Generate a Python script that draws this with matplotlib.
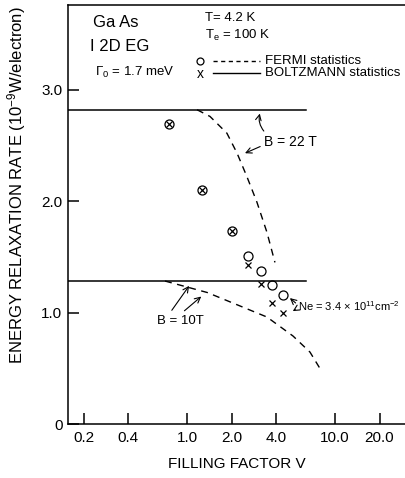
import numpy as np
import matplotlib
matplotlib.use('Agg')
import matplotlib.pyplot as plt

plt.rcParams['font.family'] = ['Liberation Sans', 'DejaVu Sans']
plt.rcParams['mathtext.fontset'] = 'custom'
plt.rcParams['mathtext.rm'] = 'Liberation Sans'
plt.rcParams['mathtext.it'] = 'Liberation Sans'

# 数据
x_ticks = [0.2, 0.4, 1.0, 2.0, 4.0, 10.0, 20.0]
x_tick_labels = ['0.2', '0.4', '1.0', '2.0', '4.0', '10.0', '20.0']
y_ticks = [0, 1.0, 2.0, 3.0]
y_tick_labels = ['0', '1.0', '2.0', '3.0']

# Boltzmann (solid, constant)
boltz_22_x = [0.157, 6.4]
boltz_22_y = [2.82, 2.82]
boltz_10_x = [0.157, 6.4]
boltz_10_y = [1.283, 1.283]

# Fermi (dashed)
fermi_22_x = [1.17, 1.43, 1.86, 2.18, 2.54, 2.97, 3.47, 3.93]
fermi_22_y = [2.82, 2.76, 2.61, 2.43, 2.22, 1.99, 1.72, 1.45]
fermi_10_x = [0.71, 1.37, 3.47, 5.2, 6.78, 8.2]
fermi_10_y = [1.283, 1.18, 0.96, 0.79, 0.645, 0.465]

# points
pts_x = [0.756, 1.26, 2.01, 2.58, 3.16, 3.75, 4.45]
fermi_pts_y = [2.69, 2.10, 1.73, 1.51, 1.37, 1.25, 1.155]
boltz_pts_y = [2.69, 2.10, 1.73, 1.43, 1.26, 1.09, 1.0]

fig = plt.figure(figsize=(4.06, 4.78), dpi=100)
ax = fig.add_axes([68/406, 54/478, 338/406, 419/478])

ax.set_xscale('log')
ax.set_xlim(0.157, 30.2)
ax.set_ylim(0, 3.76)

ax.plot(boltz_22_x, boltz_22_y, color='black', lw=1.1)
ax.plot(boltz_10_x, boltz_10_y, color='black', lw=1.1)
ax.plot(fermi_22_x, fermi_22_y, color='black', lw=1.0, ls=(0, (5, 4)))
ax.plot(fermi_10_x, fermi_10_y, color='black', lw=1.0, ls=(0, (5, 4)))

ax.plot(pts_x, fermi_pts_y, ls='none', marker='o', ms=6.5, mfc='none', mec='black', mew=0.9)
ax.plot(pts_x, boltz_pts_y, ls='none', marker='x', ms=4.5, mec='black', mew=0.9)

# 坐标轴
ax.spines['right'].set_visible(False)
for s in ['left', 'bottom', 'top']:
    ax.spines[s].set_linewidth(1.1)

ax.xaxis.set_major_locator(matplotlib.ticker.FixedLocator(x_ticks))
ax.xaxis.set_minor_locator(matplotlib.ticker.NullLocator())
ax.set_xticklabels(x_tick_labels)
ax.set_yticks(y_ticks)
ax.set_yticklabels(y_tick_labels)
ax.tick_params(axis='both', direction='in', length=8, width=1.1, labelsize=11)
ax.tick_params(axis='x', pad=5)
ax.tick_params(axis='y', pad=4)
ax.tick_params(top=False, right=False)

ax.set_xlabel('FILLING FACTOR V', fontsize=11, labelpad=9)
ax.set_ylabel(r'ENERGY RELAXATION RATE (10$^{-9}$W/electron)', fontsize=12)
ax.yaxis.set_label_coords(-0.118, 0.57)

# 左上角文字
ax.text(0.074, 0.959, 'Ga As', transform=ax.transAxes, fontsize=12, va='center')
ax.text(0.065, 0.900, 'I 2D EG', transform=ax.transAxes, fontsize=12, va='center')
ax.text(0.08, 0.840, r'$\Gamma_0$ = 1.7 meV', transform=ax.transAxes, fontsize=9.5, va='center')
ax.text(0.405, 0.969, 'T= 4.2 K', transform=ax.transAxes, fontsize=9.5, va='center')
ax.text(0.405, 0.928, r'T$_\mathrm{e}$ = 100 K', transform=ax.transAxes, fontsize=9.5, va='center')

# 图例
ax.plot([0.391], [0.866], transform=ax.transAxes, marker='o', ms=5, mfc='none', mec='black', mew=0.9)
ax.plot([0.429, 0.568], [0.866, 0.866], transform=ax.transAxes, color='black', lw=1.0, ls=(0, (3, 2.5)))
ax.text(0.583, 0.866, 'FERMI statistics', transform=ax.transAxes, fontsize=9.5, va='center')
ax.text(0.391, 0.836, 'x', transform=ax.transAxes, fontsize=10, va='center', ha='center')
ax.plot([0.429, 0.568], [0.838, 0.838], transform=ax.transAxes, color='black', lw=1.0)
ax.text(0.583, 0.838, 'BOLTZMANN statistics', transform=ax.transAxes, fontsize=9.5, va='center')

# 标注
arrow = dict(arrowstyle='->', color='black', lw=0.8)
ax.text(3.3, 2.53, 'B = 22 T', fontsize=10, va='center')
ax.annotate('', xy=(3.14, 2.81), xytext=(3.4, 2.61),
            arrowprops=dict(arrow, connectionstyle='arc3,rad=-0.3'))
ax.annotate('', xy=(2.37, 2.42), xytext=(3.25, 2.50), arrowprops=arrow)

ax.text(0.63, 0.92, 'B = 10T', fontsize=9.5, va='center')
ax.annotate('', xy=(1.06, 1.26), xytext=(0.77, 1.0), arrowprops=arrow)
ax.annotate('', xy=(1.29, 1.16), xytext=(0.93, 1.0), arrowprops=arrow)

ax.text(5.6, 1.056, r'Ne = 3.4 $\times$ 10$^{11}$cm$^{-2}$', fontsize=8, va='center')
ax.annotate('', xy=(4.8, 1.146), xytext=(5.6, 1.07), arrowprops=arrow)
ax.annotate('', xy=(5.0, 1.0), xytext=(5.6, 1.04), arrowprops=arrow)

fig.savefig('out.png', dpi=100)
